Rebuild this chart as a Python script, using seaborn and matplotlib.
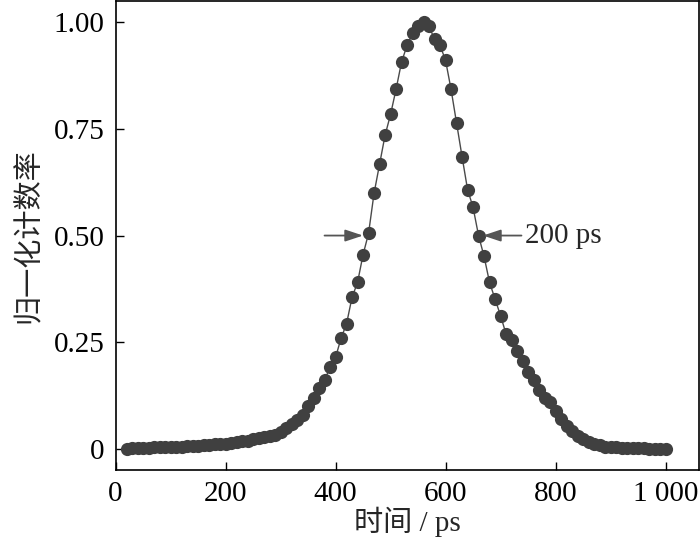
import numpy as np
import pandas as pd
import matplotlib
matplotlib.use('Agg')
import matplotlib.pyplot as plt
import seaborn as sns

# Time axis (ps) and normalised count rate
time_ps = list(range(20, 1001, 10))
counts = [
    0.000, 0.001, 0.001, 0.002, 0.002, 0.003, 0.003, 0.004, 0.004, 0.005,   # 20-110
    0.005, 0.006, 0.007, 0.007, 0.008, 0.009, 0.010, 0.011, 0.012, 0.013,   # 120-210
    0.015, 0.017, 0.019, 0.022, 0.025, 0.027, 0.029, 0.032, 0.040, 0.048,   # 220-310
    0.058, 0.068, 0.080, 0.100, 0.118, 0.142, 0.160, 0.191, 0.214, 0.259,   # 320-410
    0.293, 0.355, 0.390, 0.455, 0.505, 0.599, 0.667, 0.735, 0.784, 0.843,   # 420-510
    0.907, 0.946, 0.974, 0.991, 1.000, 0.991, 0.960, 0.946, 0.911, 0.843,   # 520-610
    0.764, 0.685, 0.608, 0.566, 0.500, 0.451, 0.390, 0.351, 0.312, 0.269,   # 620-710
    0.254, 0.230, 0.205, 0.179, 0.160, 0.138, 0.120, 0.109, 0.089, 0.070,   # 720-810
    0.054, 0.042, 0.030, 0.022, 0.015, 0.011, 0.008, 0.005, 0.004, 0.003,   # 820-910
    0.002, 0.002, 0.001, 0.001, 0.001, 0.000, 0.000, 0.000, 0.000,          # 920-1000
]

x_ticks = [0, 200, 400, 600, 800, 1000]
x_ticklabels = ['0', '200', '400', '600', '800', '1 000']
y_ticks = [0, 0.25, 0.5, 0.75, 1.0]
y_ticklabels = ['0', '0.25', '0.50', '0.75', '1.00']
fwhm_left, fwhm_right = 460, 660
fwhm_text = '200 ps'

df = pd.DataFrame({'time': time_ps, 'count': counts})

sns.set_theme(style='ticks')
plt.rcParams['font.family'] = ['Liberation Serif', 'Noto Sans CJK SC']
plt.rcParams['axes.unicode_minus'] = False

fig = plt.figure(figsize=(7, 5.44), dpi=100)
ax = fig.add_axes([0.165, 0.136, 0.833, 0.862])

sns.lineplot(data=df, x='time', y='count', ax=ax, color='#4a4a4a',
             linewidth=1.0, marker='o', markersize=9.5,
             markeredgewidth=0, markerfacecolor='#404040')

ax.set_xlim(0, 1060)
ax.set_ylim(-0.05, 1.05)
ax.set_xticks(x_ticks)
ax.set_xticklabels(x_ticklabels)
ax.set_yticks(y_ticks)
ax.set_yticklabels(y_ticklabels)
ax.tick_params(direction='in', length=6, width=1, labelsize=21, colors='black', pad=8)
for s in ax.spines.values():
    s.set_visible(True)
    s.set_color('black')
    s.set_linewidth(1.2)

ax.set_xlabel('时间 / ps', fontsize=21, labelpad=0)
ax.set_ylabel('归一化计数率', fontsize=21, labelpad=8)

# FWHM arrows
arrow_kw = dict(arrowstyle='-|>,head_length=0.6,head_width=0.2', color='#555555',
                lw=1.3, mutation_scale=18, shrinkA=0, shrinkB=0)
ax.annotate('', xy=(fwhm_left - 10, 0.5), xytext=(fwhm_left - 80, 0.5),
            arrowprops=arrow_kw)
ax.annotate('', xy=(fwhm_right + 8, 0.5), xytext=(fwhm_right + 78, 0.5),
            arrowprops=arrow_kw)
ax.text(fwhm_right + 85, 0.5, fwhm_text, fontsize=21, va='center', ha='left')

fig.savefig('out.png', dpi=100)
